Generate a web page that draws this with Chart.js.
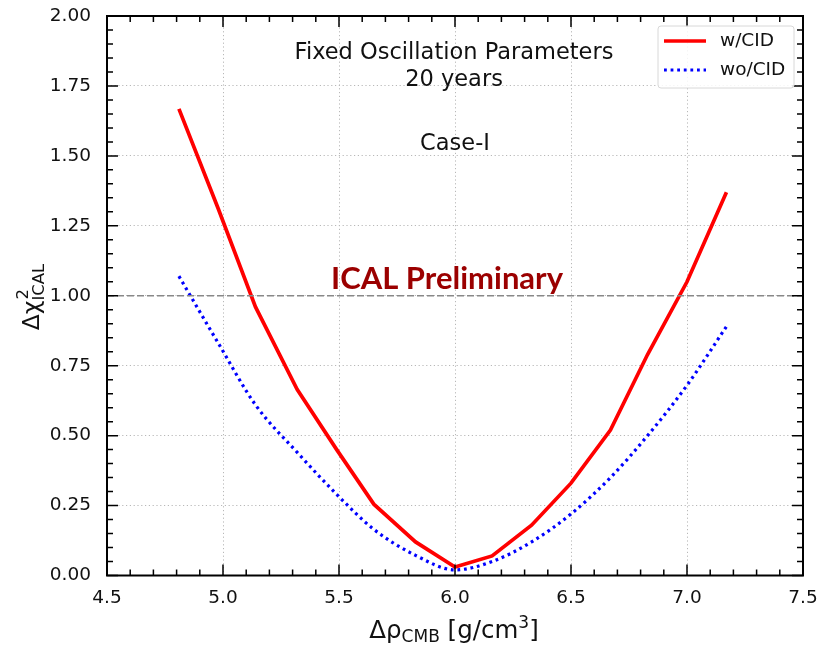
<!DOCTYPE html>
<html>
<head>
<meta charset="utf-8">
<script src="https://cdn.jsdelivr.net/npm/chart.js@4"></script>
<style>
  html, body { margin: 0; padding: 0; background: #fff; overflow: hidden; }
  #wrap { width: 819px; height: 645px; }
</style>
</head>
<body>
<div id="wrap"><canvas id="chi2"></canvas></div>
<script>
// density shift values (g/cm^3)
const rhoValues = [4.81, 4.98, 5.14, 5.32, 5.49, 5.65, 5.83, 6.00, 6.16, 6.33, 6.50, 6.67, 6.83, 7.00, 7.17];
// delta chi^2 with and without charge identification
const chiWithCID = [1.668, 1.31, 0.96, 0.665, 0.45, 0.255, 0.12, 0.03, 0.07, 0.18, 0.33, 0.52, 0.79, 1.05, 1.37];
const chiWithoutCID = [1.07, 0.83, 0.61, 0.44, 0.29, 0.165, 0.072, 0.02, 0.05, 0.12, 0.22, 0.35, 0.50, 0.68, 0.89];
// 1 sigma reference level
const sigmaLevel = [1.0, 1.0];
const sigmaRange = [4.5, 7.5];

const seriesLabels = ['w/CID', 'wo/CID'];
const xTicks = [4.5, 5.0, 5.5, 6.0, 6.5, 7.0, 7.5];
const yTicks = [0, 0.25, 0.5, 0.75, 1.0, 1.25, 1.5, 1.75, 2.0];

const FONT = '"DejaVu Sans", sans-serif';

function toPoints(xs, ys) {
    return xs.map((x, i) => ({ x: x, y: ys[i] }));
}

// texte avec indices / exposants, segment par segment
function drawRich(ctx, parts, x, y, align) {
    let total = 0;
    parts.forEach(p => {
        ctx.font = p.size + 'px ' + FONT;
        total += ctx.measureText(p.t).width;
    });
    let cx = align === 'center' ? x - total / 2 : x;
    parts.forEach(p => {
        ctx.font = p.size + 'px ' + FONT;
        ctx.fillText(p.t, cx, y + (p.dy || 0));
        cx += ctx.measureText(p.t).width;
    });
}

// cadre, petites graduations, textes et légende
const decorations = {
    id: 'decorations',
    afterDatasetsDraw(chart) {
        const ctx = chart.ctx;
        const area = chart.chartArea;
        const xs = chart.scales.x;
        const ys = chart.scales.y;
        ctx.save();

        // graduations vers l'intérieur, sur les quatre côtés
        ctx.strokeStyle = '#000';
        ctx.lineWidth = 1.5;
        for (let i = 0; i <= 30; i++) {
            const v = 4.5 + i * 0.1;
            const px = xs.getPixelForValue(v);
            const len = i % 5 === 0 ? 11 : 6;
            ctx.beginPath();
            ctx.moveTo(px, area.bottom); ctx.lineTo(px, area.bottom - len);
            ctx.moveTo(px, area.top); ctx.lineTo(px, area.top + len);
            ctx.stroke();
        }
        for (let i = 0; i <= 40; i++) {
            const v = i * 0.05;
            const py = ys.getPixelForValue(v);
            const len = i % 5 === 0 ? 11 : 6;
            ctx.beginPath();
            ctx.moveTo(area.left, py); ctx.lineTo(area.left + len, py);
            ctx.moveTo(area.right, py); ctx.lineTo(area.right - len, py);
            ctx.stroke();
        }
        ctx.lineWidth = 2;
        ctx.strokeRect(area.left, area.top, area.right - area.left, area.bottom - area.top);

        // annotations
        ctx.fillStyle = '#111';
        ctx.textAlign = 'center';
        ctx.textBaseline = 'alphabetic';
        ctx.font = '22.5px ' + FONT;
        ctx.fillText('Fixed Oscillation Parameters', 454, 59);
        ctx.fillText('20 years', 454, 86);
        ctx.fillText('Case-I', 455, 150);

        ctx.fillStyle = '#9b0000';
        ctx.font = 'bold 31px Lato, sans-serif';
        ctx.fillText('ICAL Preliminary', 447, 289);

        // titres des axes
        ctx.fillStyle = '#111';
        ctx.textAlign = 'left';
        drawRich(ctx, [
            { t: 'Δρ', size: 24.5 },
            { t: 'CMB', size: 17, dy: 4 },
            { t: ' [g/cm', size: 24.5 },
            { t: '3', size: 17, dy: -10 },
            { t: ']', size: 24.5 }
        ], 454, 638, 'center');

        ctx.save();
        ctx.translate(39, 297);
        ctx.rotate(-Math.PI / 2);
        ctx.font = '23.5px ' + FONT;
        const w1 = ctx.measureText('Δχ').width;
        ctx.font = '16.5px ' + FONT;
        const w2 = ctx.measureText('ICAL').width;
        const start = -(w1 + w2) / 2;
        ctx.font = '23.5px ' + FONT;
        ctx.fillText('Δχ', start, 0);
        ctx.font = '16.5px ' + FONT;
        ctx.fillText('2', start + w1 + 1, -11);
        ctx.fillText('ICAL', start + w1, 5);
        ctx.restore();

        // légende
        const lx = 658, ly = 26, lw = 136, lh = 62;
        ctx.fillStyle = 'rgba(255,255,255,0.85)';
        ctx.strokeStyle = '#d8d8d8';
        ctx.lineWidth = 1;
        ctx.beginPath();
        ctx.roundRect(lx, ly, lw, lh, 3);
        ctx.fill();
        ctx.stroke();

        const ds = chart.data.datasets;
        [1, 2].forEach((k, row) => {
            const d = ds[k];
            const yy = ly + 15 + row * 29;
            ctx.strokeStyle = d.borderColor;
            ctx.lineWidth = d.borderWidth;
            ctx.setLineDash(d.borderDash || []);
            ctx.lineCap = 'butt';
            ctx.beginPath();
            ctx.moveTo(lx + 6, yy);
            ctx.lineTo(lx + 48, yy);
            ctx.stroke();
            ctx.setLineDash([]);
            ctx.fillStyle = '#111';
            ctx.font = '18.5px ' + FONT;
            ctx.textBaseline = 'middle';
            ctx.fillText(d.label, lx + 62, yy);
        });

        ctx.restore();
    }
};

new Chart(document.getElementById('chi2'), {
    type: 'line',
    data: {
        datasets: [
            {
                label: '1 sigma',
                data: toPoints(sigmaRange, sigmaLevel),
                borderColor: '#888888',
                borderWidth: 1.5,
                borderDash: [7, 3],
                pointRadius: 0
            },
            {
                label: seriesLabels[0],
                data: toPoints(rhoValues, chiWithCID),
                borderColor: '#ff0000',
                borderWidth: 3.7,
                pointRadius: 0,
                tension: 0
            },
            {
                label: seriesLabels[1],
                data: toPoints(rhoValues, chiWithoutCID),
                borderColor: '#0000ff',
                borderWidth: 3.2,
                borderDash: [2.8, 3.8],
                borderCapStyle: 'butt',
                pointRadius: 0,
                cubicInterpolationMode: 'monotone'
            }
        ]
    },
    options: {
        responsive: true,
        maintainAspectRatio: false,
        animation: false,
        layout: { padding: { top: 16, right: 16, left: 0, bottom: 0 } },
        plugins: {
            legend: { display: false },
            tooltip: { enabled: false }
        },
        scales: {
            x: {
                type: 'linear',
                min: 4.5,
                max: 7.5,
                afterBuildTicks: s => { s.ticks = xTicks.map(v => ({ value: v })); },
                afterFit: s => {
                    s.height = 69.5;
                    s.paddingLeft = 0;
                    s.paddingRight = 0;
                },
                ticks: {
                    padding: 12,
                    color: '#111',
                    font: { family: 'DejaVu Sans', size: 18.5 },
                    maxRotation: 0,
                    callback: v => v.toFixed(1)
                },
                grid: { color: '#b8b8b8', lineWidth: 1, drawTicks: false },
                border: { display: false, dash: [1.2, 2.6] }
            },
            y: {
                type: 'linear',
                min: 0,
                max: 2,
                afterBuildTicks: s => { s.ticks = yTicks.map(v => ({ value: v })); },
                afterFit: s => {
                    s.width = 107;
                    s.paddingTop = 0;
                    s.paddingBottom = 0;
                },
                ticks: {
                    padding: 16,
                    color: '#111',
                    font: { family: 'DejaVu Sans', size: 18.5 },
                    callback: v => v.toFixed(2)
                },
                grid: { color: '#b8b8b8', lineWidth: 1, drawTicks: false },
                border: { display: false, dash: [1.2, 2.6] }
            }
        }
    },
    plugins: [decorations]
});
</script>
</body>
</html>
